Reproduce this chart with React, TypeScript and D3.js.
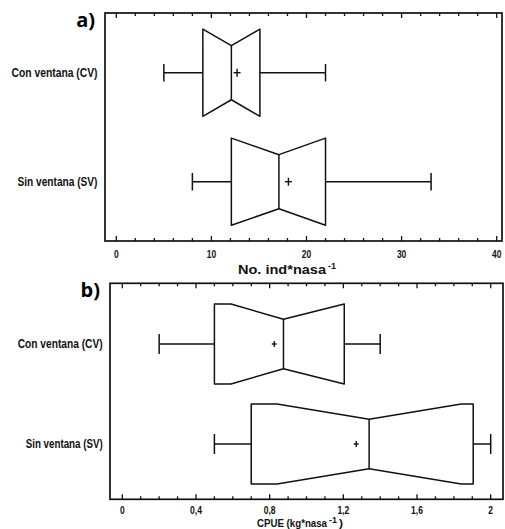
import * as d3 from "d3";

const groups = ["Con ventana  (CV)", "Sin ventana (SV)"];

// panel a: No. ind*nasa-1
const aMin = [5, 8];
const aQ1 = [9.1, 12.1];
const aMedian = [12.1, 17.1];
const aQ3 = [15.1, 22];
const aMax = [22, 33.1];
const aMean = [12.7, 18.1];
const aNotchLo = [7, 10];
const aNotchHi = [17, 24];
const aTicks = [0, 10, 20, 30, 40];

// panel b: CPUE
const bMin = [0.2, 0.5];
const bQ1 = [0.5, 0.7];
const bMedian = [0.875, 1.34];
const bQ3 = [1.205, 1.905];
const bMax = [1.4, 2.0];
const bMean = [0.825, 1.27];
const bNotchLo = [0.59, 0.84];
const bNotchHi = [1.3, 1.84];
const bTicks = [0, 0.4, 0.8, 1.2, 1.6, 2];

const FONT = "'Liberation Sans', Arial, sans-serif";
const INK = "#111";

// condensed bold text squeezed to a given width (the original uses a narrow face)
function Narrow(props: { x: number; y: number; w: number; size: number; anchor?: string; children: string }) {
  return (
    <text
      x={props.x}
      y={props.y}
      textAnchor={props.anchor ?? "start"}
      textLength={props.w}
      lengthAdjust="spacingAndGlyphs"
      fontFamily={FONT}
      fontWeight="bold"
      fontSize={props.size}
      fill={INK}
    >
      {props.children}
    </text>
  );
}

const tickWidth = (s: string) => s.replace(",", "").length * 4.7 + (s.includes(",") ? 2.5 : 0);

interface PanelProps {
  tag: string;
  frame: { left: number; right: number; top: number; bottom: number };
  x: d3.ScaleLinear<number, number>;
  insetTop: number;
  insetBottom: number;
  minorStep: number;
  majorTicks: number[];
  fmt: (v: number) => string;
  title: string;
  titleX: number;
  titleW: number;
  titleY: number;
  titleSize: number;
  tickY: number;
  closeParen: boolean;
  labelX: number;
  labelW: number[];
  mins: number[];
  q1s: number[];
  meds: number[];
  q3s: number[];
  maxs: number[];
  means: number[];
  nlo: number[];
  nhi: number[];
  plus: number;
  capRatio: number;
}

function Panel(p: PanelProps) {
  const { frame, x } = p;
  const y = d3.scalePoint<string>().domain(groups).range([frame.top + p.insetTop, frame.bottom - p.insetBottom]);
  const step = y.step();
  const boxH = step * 0.4;
  const medH = boxH * 0.62;
  const capH = step * p.capRatio;
  const [d0, d1] = x.domain();
  const minor = d3.range(d0, d1 + p.minorStep / 2, p.minorStep);
  const isMajor = (v: number) => p.majorTicks.some((m) => Math.abs(m - v) < 1e-6);
  const supX = p.titleX + p.titleW + 2;
  const ty = frame.bottom + p.titleY;

  return (
    <g>
      <text x={frame.left - 10} y={frame.top + 14} textAnchor="end" fontFamily="'Open Sans', 'Liberation Sans', Arial, sans-serif" fontWeight="bold" fontSize={20} fill="#000">{p.tag}</text>
      <rect x={frame.left} y={frame.top} width={frame.right - frame.left} height={frame.bottom - frame.top} fill="none" stroke={INK} strokeWidth={1.7} />
      {minor.map((v, i) => {
        const len = isMajor(v) ? 5 : 3;
        return (
          <g key={i}>
            <line x1={x(v)} x2={x(v)} y1={frame.bottom} y2={frame.bottom - len} stroke={INK} strokeWidth={1.3} />
            <line x1={x(v)} x2={x(v)} y1={frame.top} y2={frame.top + len} stroke={INK} strokeWidth={1.3} />
          </g>
        );
      })}
      {p.majorTicks.map((v) => {
        const s = p.fmt(v);
        return (
          <Narrow key={v} x={x(v)} y={frame.bottom + p.tickY} w={tickWidth(s)} size={11.5} anchor="middle">{s}</Narrow>
        );
      })}
      <text fontFamily={FONT} fontWeight="bold" fontSize={p.titleSize} fill={INK}>
        <tspan x={p.titleX} y={ty} textLength={p.titleW} lengthAdjust="spacingAndGlyphs">{p.title}</tspan>
        <tspan x={supX} y={ty - 4.5} fontSize={8.5} textLength={8} lengthAdjust="spacingAndGlyphs">-1</tspan>
        {p.closeParen ? <tspan x={supX + 10} y={ty} textLength={4} lengthAdjust="spacingAndGlyphs">)</tspan> : null}
      </text>
      {groups.map((g, i) => {
        const cy = y(g)!;
        const lo = Math.max(p.nlo[i], p.q1s[i]);
        const hi = Math.min(p.nhi[i], p.q3s[i]);
        const outline: [number, number][] = [
          [x(p.q1s[i]), cy - boxH],
          [x(lo), cy - boxH],
          [x(p.meds[i]), cy - medH],
          [x(hi), cy - boxH],
          [x(p.q3s[i]), cy - boxH],
          [x(p.q3s[i]), cy + boxH],
          [x(hi), cy + boxH],
          [x(p.meds[i]), cy + medH],
          [x(lo), cy + boxH],
          [x(p.q1s[i]), cy + boxH],
        ];
        const mx = x(p.means[i]);
        return (
          <g key={g}>
            <Narrow x={p.labelX} y={cy + 4} w={p.labelW[i]} size={12} anchor="end">{g}</Narrow>
            <line x1={x(p.mins[i])} x2={x(p.q1s[i])} y1={cy} y2={cy} stroke={INK} strokeWidth={1.5} />
            <line x1={x(p.q3s[i])} x2={x(p.maxs[i])} y1={cy} y2={cy} stroke={INK} strokeWidth={1.5} />
            <line x1={x(p.mins[i])} x2={x(p.mins[i])} y1={cy - capH} y2={cy + capH} stroke={INK} strokeWidth={1.5} />
            <line x1={x(p.maxs[i])} x2={x(p.maxs[i])} y1={cy - capH} y2={cy + capH} stroke={INK} strokeWidth={1.5} />
            <path d={d3.line()(outline)! + "Z"} fill="none" stroke={INK} strokeWidth={1.5} strokeLinejoin="round" />
            <line x1={x(p.meds[i])} x2={x(p.meds[i])} y1={cy - medH} y2={cy + medH} stroke={INK} strokeWidth={1.5} />
            <line x1={mx - p.plus} x2={mx + p.plus} y1={cy} y2={cy} stroke={INK} strokeWidth={1.4} />
            <line x1={mx} x2={mx} y1={cy - p.plus - 0.5} y2={cy + p.plus + 0.5} stroke={INK} strokeWidth={1.4} />
          </g>
        );
      })}
    </g>
  );
}

export default function App() {
  const xa = d3.scaleLinear().domain([0, 40]).range([116.3, 496.7]);
  const xb = d3.scaleLinear().domain([0, 2]).range([122.3, 490.7]);
  return (
    <svg width={505} height={529} style={{ position: "absolute", left: 0, top: 0, background: "#fff" }}>
      <Panel
        tag="a)"
        frame={{ left: 105, right: 502, top: 13, bottom: 241 }}
        x={xa}
        insetTop={59.7}
        insetBottom={59.3}
        minorStep={2}
        majorTicks={aTicks}
        fmt={(v) => String(v)}
        title="No. ind*nasa"
        titleX={238}
        titleW={88}
        titleY={32.5}
        titleSize={12}
        tickY={16.5}
        closeParen={false}
        labelX={97.5}
        labelW={[86, 80]}
        mins={aMin}
        q1s={aQ1}
        meds={aMedian}
        q3s={aQ3}
        maxs={aMax}
        means={aMean}
        nlo={aNotchLo}
        nhi={aNotchHi}
        plus={3.5}
        capRatio={0.08}
      />
      <Panel
        tag="b)"
        frame={{ left: 110, right: 503, top: 283.3, bottom: 499.3 }}
        x={xb}
        insetTop={60.7}
        insetBottom={55.3}
        minorStep={0.1}
        majorTicks={bTicks}
        fmt={(v) => String(v).replace(".", ",")}
        title="CPUE (kg*nasa"
        titleX={257}
        titleW={70}
        titleY={28}
        titleSize={10.5}
        tickY={14.5}
        closeParen={true}
        labelX={102.7}
        labelW={[85, 77]}
        mins={bMin}
        q1s={bQ1}
        meds={bMedian}
        q3s={bQ3}
        maxs={bMax}
        means={bMean}
        nlo={bNotchLo}
        nhi={bNotchHi}
        plus={2.5}
        capRatio={0.1}
      />
    </svg>
  );
}
